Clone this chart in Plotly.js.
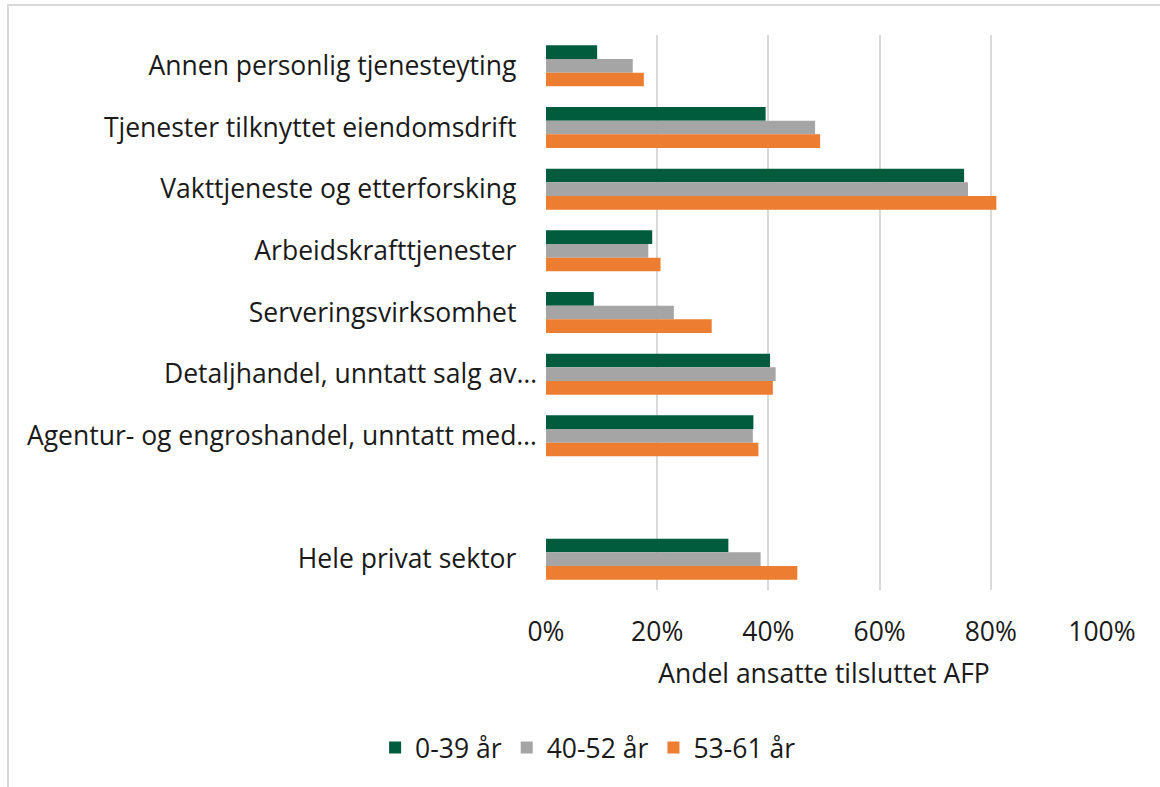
<!DOCTYPE html>
<html>
<head>
<meta charset="utf-8">
<script src="https://cdn.plot.ly/plotly-3.0.1.min.js"></script>
<style>
html,body{margin:0;padding:0;background:#fff;overflow:hidden;}
#wrap{position:relative;width:1160px;height:787px;}
#frame{position:absolute;left:7px;top:4px;width:1200px;height:900px;border:2px solid #d9d9d9;pointer-events:none;}
#chart{position:absolute;left:0;top:0;width:1160px;height:787px;}
</style>
</head>
<body>
<div id="wrap"><div id="chart"></div><div id="frame"></div></div>
<script>
const categories = [
  "Annen personlig tjenesteyting",
  "Tjenester tilknyttet eiendomsdrift",
  "Vakttjeneste og etterforsking",
  "Arbeidskrafttjenester",
  "Serveringsvirksomhet",
  "Detaljhandel, unntatt salg av…",
  "Agentur- og engroshandel, unntatt med…",
  " ",
  "Hele privat sektor"
];
const seriesNames = ["0-39 år", "40-52 år", "53-61 år"];
const age0_39  = [9.2, 39.5, 75.2, 19.1, 8.6, 40.3, 37.3, null, 32.8];
const age40_52 = [15.6, 48.4, 75.9, 18.4, 23.0, 41.3, 37.2, null, 38.6];
const age53_61 = [17.6, 49.3, 81.0, 20.6, 29.8, 40.8, 38.2, null, 45.2];
const xTicks = [0, 20, 40, 60, 80, 100];
const colors = ["#005C3C", "#A5A5A5", "#ED7D31"];

const all = [age0_39, age40_52, age53_61];
const traces = all.map((vals, i) => ({
  type: "bar",
  orientation: "h",
  name: seriesNames[i],
  y: categories,
  x: vals,
  marker: {color: colors[i]},
  hoverinfo: "x+y+name"
}));

// truncated labels (ending in an ellipsis) sit closer to the axis, as in the original
const pad = "\u00A0\u00A0\u00A0";
const yTickText = categories.map(c => c.endsWith("…") ? c : c + pad);

const font = {family: "Open Sans, Noto Sans, sans-serif", size: 26.5, color: "#1a1a1a"};

const layout = {
  width: 1160,
  height: 787,
  margin: {l: 546, r: 58, t: 35, b: 197},
  paper_bgcolor: "rgba(0,0,0,0)",
  plot_bgcolor: "#fff",
  font: font,
  barmode: "group",
  bargap: 0.335,
  bargroupgap: 0,
  showlegend: true,
  legend: {
    orientation: "h",
    x: 0.507, xref: "container", xanchor: "center",
    y: 0.05, yref: "container", yanchor: "middle",
    font: font,
    itemwidth: 30,
    traceorder: "normal"
  },
  xaxis: {
    range: [0, 100],
    tickvals: xTicks,
    ticktext: xTicks.map(v => v + "%"),
    showgrid: true,
    gridcolor: "#d9d9d9",
    gridwidth: 2,
    zeroline: false,
    showline: false,
    ticks: "",
    ticklabelstandoff: 23,
    tickfont: font,
    title: {text: "Andel ansatte tilsluttet AFP", font: font, standoff: 16},
    fixedrange: true
  },
  yaxis: {
    type: "category",
    categoryorder: "array",
    categoryarray: categories,
    tickvals: categories,
    ticktext: yTickText,
    autorange: "reversed",
    showgrid: false,
    zeroline: false,
    showline: false,
    ticks: "",
    ticklabelstandoff: 8,
    tickfont: font,
    fixedrange: true
  }
};

Plotly.newPlot("chart", traces, layout, {displayModeBar: false, staticPlot: true});
</script>
</body>
</html>
